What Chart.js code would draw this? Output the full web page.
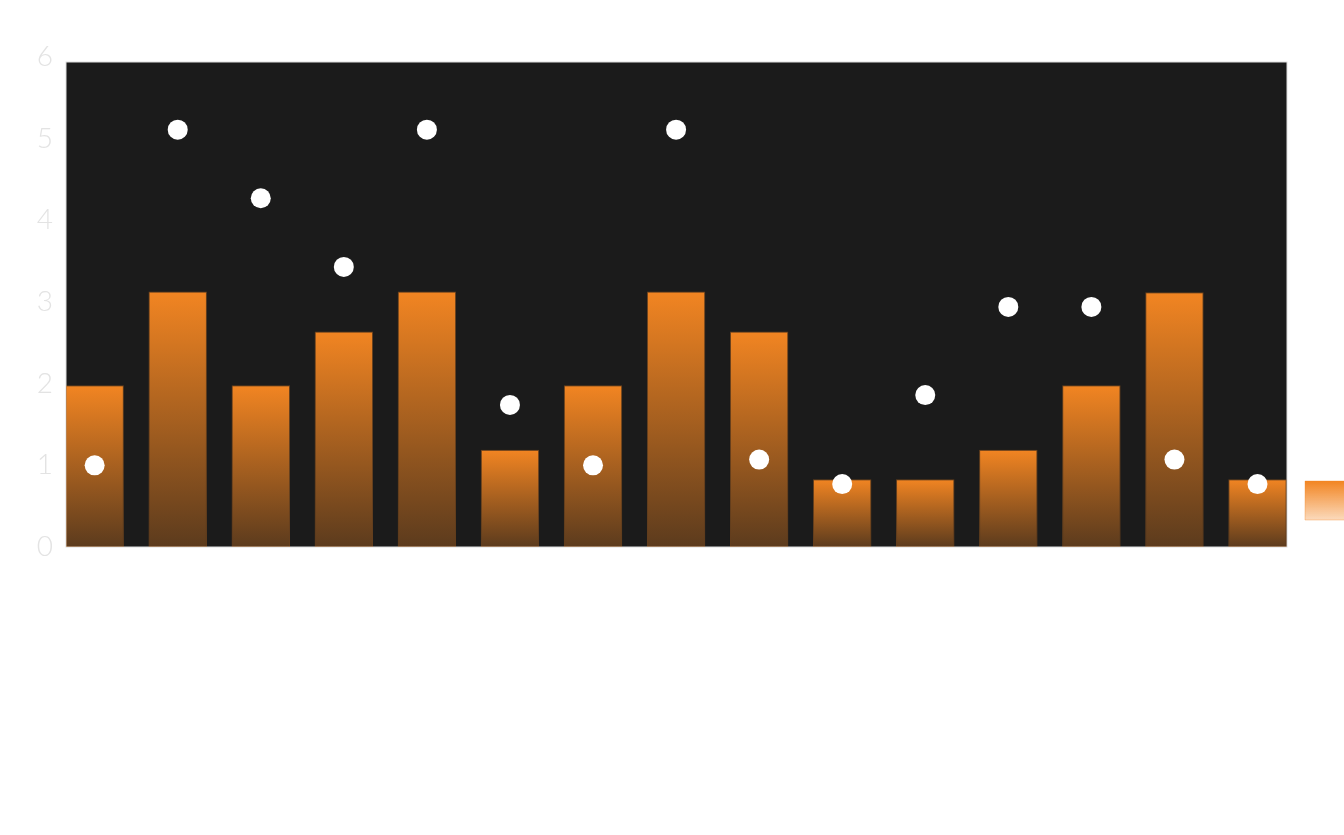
<!DOCTYPE html>
<html lang="en">
<head>
    <meta charset="UTF-8">
    <title>Bars and dots</title>
    <script src="https://cdn.jsdelivr.net/npm/chart.js@4.4.1/dist/chart.umd.min.js"></script>
    <style>
        html, body { margin: 0; padding: 0; background: #ffffff; }
        .wrap { width: 1344px; height: 835px; position: relative; }
    </style>
</head>
<body>
    <div class="wrap">
        <canvas id="grafico"></canvas>
    </div>

    <script>
    // datos
    const categorias = ['1', '2', '3', '4', '5', '6', '7', '8', '9', '10', '11', '12', '13', '14', '15'];
    const barras = [1.98, 3.13, 1.98, 2.64, 3.13, 1.19, 1.98, 3.13, 2.64, 0.83, 0.83, 1.19, 1.98, 3.12, 0.83];
    const puntos = [1.0, 5.11, 4.27, 3.43, 5.11, 1.74, 1.0, 5.11, 1.07, 0.77, 1.86, 2.94, 2.94, 1.07, 0.77];
    const ticksY = [0, 1, 2, 3, 4, 5, 6];

    const NARANJA = 'rgba(242,133,34,1)';
    const NARANJA_FONDO = 'rgba(242,133,34,0.3)';
    const BORDE_BARRA = 'rgba(242,133,34,0.35)';

    function degradado(ctx, top, bottom) {
      if (!isFinite(top) || !isFinite(bottom) || top === bottom) return NARANJA;
      const g = ctx.createLinearGradient(0, top, 0, bottom);
      g.addColorStop(0, NARANJA);
      g.addColorStop(1, NARANJA_FONDO);
      return g;
    }

    // fondo oscuro del area del grafico + degradado de la leyenda
    const fondo = {
      id: 'fondo',
      beforeDraw(chart) {
        const lg = chart.legend;
        if (!lg || !lg.legendItems || !lg.legendItems.length || !lg.legendHitBoxes[0]) return;
        const hb = lg.legendHitBoxes[0];
        const lab = lg.options.labels;
        const top = hb.top + Math.max((lab.font.size - lab.boxHeight) / 2, 0);
        lg.legendItems[0].fillStyle = degradado(chart.ctx, top, top + lab.boxHeight);
      },
      beforeDatasetsDraw(chart) {
        const {ctx, chartArea: a} = chart;
        const top = a.top + 5;
        ctx.save();
        ctx.fillStyle = '#1b1b1b';
        ctx.fillRect(a.left, top, a.right - a.left, a.bottom - top);
        ctx.strokeStyle = '#dedede';
        ctx.lineWidth = 1;
        ctx.strokeRect(a.left, top, a.right - a.left, a.bottom - top);
        ctx.restore();
      }
    };

    document.addEventListener("DOMContentLoaded", function () {
      const ctx = document.getElementById("grafico").getContext("2d");
      new Chart(ctx, {
        data: {
          datasets: [
            {
              type: 'line',
              label: 'Puntos',
              data: puntos.map((v, i) => ({x: i, y: v})),
              showLine: false,
              pointRadius: 10,
              pointHoverRadius: 10,
              pointBackgroundColor: '#ffffff',
              pointBorderWidth: 0,
              borderColor: '#ffffff',
              order: 0
            },
            {
              type: 'bar',
              label: 'Barras',
              data: barras.map((v, i) => ({x: i, y: v})),
              backgroundColor: function (c) {
                const chart = c.chart;
                if (c.type !== 'data' || !chart.scales.y || !c.parsed) return NARANJA;
                const y = chart.scales.y;
                return degradado(chart.ctx, y.getPixelForValue(c.parsed.y), y.getPixelForValue(0));
              },
              borderColor: BORDE_BARRA,
              borderWidth: 1,
              categoryPercentage: 0.8,
              barPercentage: 0.88,
              order: 1
            }
          ]
        },
        options: {
          responsive: true,
          maintainAspectRatio: false,
          animation: false,
          layout: { padding: { top: 57, right: 0, bottom: 288, left: 0 } },
          scales: {
            x: {
              type: 'linear',
              offset: false,
              min: -0.345,
              max: 14.355,
              grid: { display: false, drawTicks: false, offset: false },
              border: { display: false },
              ticks: {
                display: false,
                callback: (v) => categorias[v] || ''
              }
            },
            y: {
              min: 0,
              max: 6,
              afterFit: (s) => { s.width = 66; },
              afterBuildTicks: (s) => { s.ticks = ticksY.map(v => ({value: v})); },
              grid: { display: false, drawTicks: false },
              border: { display: false },
              ticks: {
                padding: 13,
                color: '#e3e3e3',
                font: { family: 'Lato', size: 28, weight: 300 }
              }
            }
          },
          plugins: {
            tooltip: { enabled: false },
            legend: {
              position: 'right',
              align: 'end',
              maxWidth: 57,
              labels: {
                boxWidth: 40,
                boxHeight: 39,
                padding: 18,
                color: 'rgba(0,0,0,0)',
                font: { size: 57 },
                filter: (item) => item.datasetIndex === 1
              }
            }
          }
        },
        plugins: [fondo]
      });
    });
    </script>
</body>
</html>
